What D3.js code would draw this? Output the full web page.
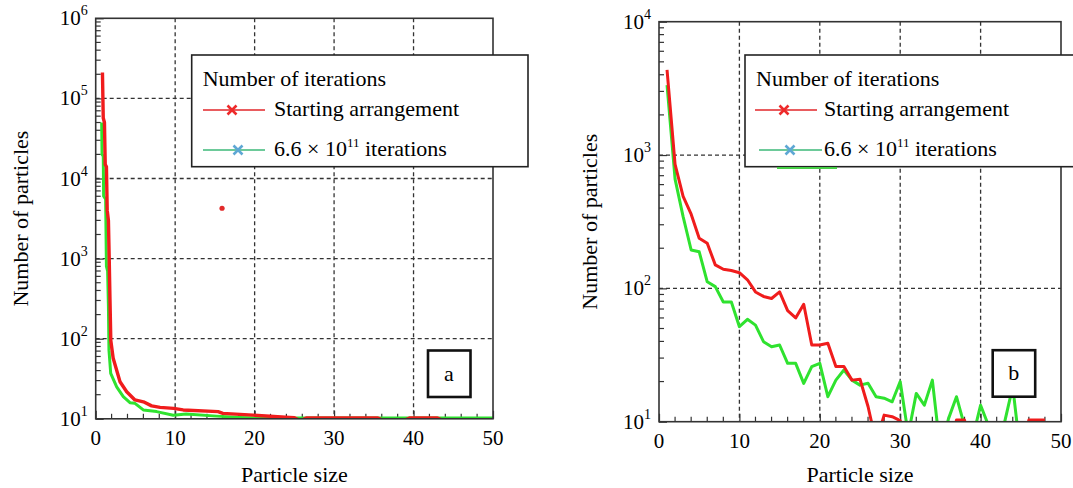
<!DOCTYPE html>
<html><head><meta charset="utf-8">
<script src="https://cdn.jsdelivr.net/npm/d3@7"></script>
</head><body style="margin:0">
<svg id="chart" width="1073" height="488"></svg>
<script>
// ---------- data ----------
const xTicks = [0, 10, 20, 30, 40, 50];
const xMinorTicks = [2, 4, 6, 8, 12, 14, 16, 18, 22, 24, 26, 28, 32, 34, 36, 38, 42, 44, 46, 48];
const leftYTicks = [1e1, 1e2, 1e3, 1e4, 1e5, 1e6];
const rightYTicks = [1e1, 1e2, 1e3, 1e4];
const legendTitle = "Number of iterations";
const seriesNames = ["Starting arrangement", "6.6 × 10", "11", " iterations"];
const panelLetters = ["a", "b"];
const xTitle = "Particle size";
const yTitle = "Number of particles";

// panel a
const leftRedSize  = [0.85, 0.95, 1.1, 1.2, 1.35, 1.45, 1.6, 1.7, 1.8, 1.9, 2.2, 3.06, 3.9, 4.94, 6.0, 7.04, 8.1, 9.8, 11.0, 15.4, 16.0, 19.8, 24.4, 25, 25.5, 26, 26.5, 35.5, 36, 39, 39.5, 43, 43.5, 50];
const leftRedCount = [210000, 57000, 50000, 15000, 14000, 4000, 3000, 1000, 300, 95, 57, 29, 21.8, 17.2, 16.3, 14.5, 13.9, 13.5, 12.9, 12.3, 11.7, 11.1, 10.4, 10.3, 9.7, 9.7, 10.25, 10.25, 9.7, 9.7, 10.25, 10.25, 9.7, 9.7];
const leftGreenSize  = [0.75, 0.8, 0.95, 1.0, 1.25, 1.35, 1.5, 1.6, 1.67, 1.89, 2.64, 3.47, 4.31, 4.94, 5.99, 7.67, 9.76, 11.4, 15.2, 18.2, 20.3, 50];
const leftGreenCount = [50000, 20000, 19000, 6000, 5500, 800, 700, 250, 72, 37, 25, 18.9, 15.9, 15.6, 12.9, 12.3, 11.1, 11.5, 10.8, 10.4, 10.2, 10.2];
const leftStraySize = [15.9];
const leftStrayCount = [4250];

// panel b
const rightSize = [1,2,3,4,5,6,7,8,9,10,11,12,13,14,15,16,17,18,19,20,21,22,23,24,25,26,27,28,29,30,31,32,33,34,35,36,37,38,39,40,41,42,43,44,45,46,47,48];
const rightRedCount = [4350, 850, 490, 360, 238, 218, 150, 139, 136, 131, 116, 94, 87, 84, 94, 68, 60, 76, 37.6, 37.6, 38.8, 25.9, 25.9, 20.5, 20.8, 13, 7, 11.2, 10.9, 10.2, 6, 5, 5, 5, 5, 5, 10.3, 10.3, 5, 5, 5, 5, 5, 5, 5, 10.3, 10.3, 10.3];
const rightGreenCount = [3350, 660, 345, 194, 188, 112, 103, 79, 79, 51.6, 58.6, 53, 39.8, 36.5, 37.6, 27.4, 27.4, 19.4, 25.9, 27.4, 15.4, 20.5, 24.4, 20.5, 18.8, 19.4, 15.4, 15, 14.1, 20, 8, 16.3, 13.3, 20.5, 6, 10.5, 15.4, 9.3, 7.5, 13.3, 9.3, 7, 10, 18.3, 5.5, 5, 5, 5];

// ---------- drawing ----------
const svg = d3.select("#chart");
const RED = "#f01c1c", GREEN = "#2fe22f", GRID = "#333";
const defs = svg.append("defs");
const textQueue = [];   // texts are appended last, straight on the svg root

function addText(opts) { textQueue.push(opts); }

function drawPanel(cfg) {
  const x = d3.scaleLinear().domain([0, 50]).range([cfg.left, cfg.right]);
  const y = d3.scaleLog().domain([cfg.yTicks[0], cfg.yTicks[cfg.yTicks.length - 1]]).range([cfg.bottom, cfg.top]);
  const g = svg.append("g");
  const clipId = "clip-" + cfg.id;
  defs.append("clipPath").attr("id", clipId).append("rect")
    .attr("x", cfg.left).attr("y", cfg.top)
    .attr("width", cfg.right - cfg.left).attr("height", cfg.bottom - cfg.top);

  // grid
  g.append("g").selectAll("line").data(xTicks.slice(1, -1)).join("line")
    .attr("x1", d => x(d)).attr("x2", d => x(d)).attr("y1", cfg.top).attr("y2", cfg.bottom)
    .attr("stroke", GRID).attr("stroke-width", 1.3).attr("stroke-dasharray", "4,3");
  g.append("g").selectAll("line").data(cfg.yTicks.slice(1, -1)).join("line")
    .attr("x1", cfg.left).attr("x2", cfg.right).attr("y1", d => y(d)).attr("y2", d => y(d))
    .attr("stroke", GRID).attr("stroke-width", 1.3).attr("stroke-dasharray", "4,3");

  // minor ticks
  g.append("g").selectAll("line").data(xMinorTicks).join("line")
    .attr("x1", d => x(d)).attr("x2", d => x(d)).attr("y1", cfg.bottom).attr("y2", cfg.bottom - 5)
    .attr("stroke", GRID).attr("stroke-width", 1.2);
  const yMinor = [];
  cfg.yTicks.slice(0, -1).forEach(dec => { for (let m = 2; m <= 9; m++) yMinor.push(dec * m); });
  g.append("g").selectAll("line").data(yMinor).join("line")
    .attr("x1", cfg.left).attr("x2", cfg.left + 5).attr("y1", d => y(d)).attr("y2", d => y(d))
    .attr("stroke", GRID).attr("stroke-width", 1.2);

  // axes (tick marks from d3 axes; labels placed with the same scales)
  const ax = g.append("g").attr("transform", `translate(0,${cfg.bottom})`)
    .call(d3.axisBottom(x).tickValues(xTicks).tickSizeInner(-8).tickSizeOuter(0).tickFormat(() => ""));
  ax.select(".domain").remove();
  ax.selectAll("text").remove();
  ax.selectAll("line").attr("stroke", GRID).attr("stroke-width", 1.2);
  const ay = g.append("g").attr("transform", `translate(${cfg.left},0)`)
    .call(d3.axisLeft(y).tickValues(cfg.yTicks).tickSizeInner(-8).tickSizeOuter(0).tickFormat(() => ""));
  ay.select(".domain").remove();
  ay.selectAll("text").remove();
  ay.selectAll("line").attr("stroke", GRID).attr("stroke-width", 1.2);

  xTicks.forEach(t => addText({x: x(t), y: cfg.bottom + 26, size: 21, anchor: "middle", parts: [[String(t)]]}));
  cfg.yTicks.forEach(t => addText({x: cfg.left - 8, y: y(t) + 7, size: 21, anchor: "end",
    parts: [["10"], [String(Math.round(Math.log10(t))), 14, -10]]}));

  // series
  const line = d3.line().x(d => x(d[0])).y(d => y(d[1]));
  const series = g.append("g").attr("clip-path", `url(#${clipId})`);
  cfg.series.forEach(s => {
    series.append("path").datum(d3.zip(s.sizes, s.counts))
      .attr("d", line).attr("fill", "none").attr("stroke", s.color)
      .attr("stroke-width", s.width).attr("stroke-linejoin", "round");
  });
  if (cfg.stray) {
    series.selectAll("circle").data(d3.zip(cfg.stray.sizes, cfg.stray.counts)).join("circle")
      .attr("cx", d => x(d[0])).attr("cy", d => y(d[1])).attr("r", 2.6).attr("fill", "#e22a2a");
  }

  // border
  g.append("rect").attr("x", cfg.left).attr("y", cfg.top)
    .attr("width", cfg.right - cfg.left).attr("height", cfg.bottom - cfg.top)
    .attr("fill", "none").attr("stroke", GRID).attr("stroke-width", 1.6);

  // titles
  addText({x: (cfg.left + cfg.right) / 2, y: 482, size: 22, anchor: "middle", parts: [[xTitle]]});
  addText({x: 0, y: 0, size: 22, anchor: "middle", parts: [[yTitle]],
    transform: `translate(${cfg.yTitleX},${(cfg.top + cfg.bottom) / 2}) rotate(-90)`});

  // legend
  const L = cfg.legend;
  const lg = g.append("g");
  lg.append("rect").attr("x", L.x).attr("y", L.y).attr("width", L.w).attr("height", L.h)
    .attr("fill", "#fff").attr("stroke", "#222").attr("stroke-width", 1.6);
  const rows = [
    {y: L.y + 55, x1: L.redX1, x2: L.redX2, mk: L.redMk, color: "#e2262a", mcolor: "#ee2a2a"},
    {y: L.y + 95, x1: L.grnX1, x2: L.grnX2, mk: L.grnMk, color: "#3cb878", mcolor: "#5ea7d4"}
  ];
  rows.forEach(r => {
    lg.append("line").attr("x1", r.x1).attr("x2", r.x2).attr("y1", r.y).attr("y2", r.y)
      .attr("stroke", r.color).attr("stroke-width", 1.6);
    const m = 4.5;
    lg.append("path").attr("d", `M${r.mk - m},${r.y - m}L${r.mk + m},${r.y + m}M${r.mk - m},${r.y + m}L${r.mk + m},${r.y - m}`)
      .attr("stroke", r.mcolor).attr("stroke-width", 2.6);
  });
  addText({x: L.x + 11, y: L.y + 31, size: 22, anchor: "start", parts: [[legendTitle]]});
  addText({x: L.textX, y: L.y + 61, size: 22, anchor: "start", parts: [[seriesNames[0]]]});
  addText({x: L.textX, y: L.y + 101, size: 22, anchor: "start",
    parts: [[seriesNames[1]], [seriesNames[2], 13, -9], [seriesNames[3], null, 9]]});
  if (L.artifact) {
    lg.append("line").attr("x1", L.artifact[0]).attr("x2", L.artifact[1])
      .attr("y1", L.y + L.h + 1.2).attr("y2", L.y + L.h + 1.2)
      .attr("stroke", "#47cf47").attr("stroke-width", 2);
  }

  // panel letter box
  const B = cfg.box;
  g.append("rect").attr("x", B.x).attr("y", B.y).attr("width", 42.5).attr("height", 46.5)
    .attr("fill", "#fff").attr("stroke", "#111").attr("stroke-width", 2.6);
  addText({x: B.x + 21, y: B.y + 30, size: 22, anchor: "middle", parts: [[cfg.letter]]});
}

drawPanel({
  id: "a", left: 95.7, right: 493, top: 18.3, bottom: 418.8, yTicks: leftYTicks, yTitleX: 28,
  series: [
    {sizes: leftGreenSize, counts: leftGreenCount, color: GREEN, width: 3},
    {sizes: leftRedSize, counts: leftRedCount, color: RED, width: 3.4}
  ],
  stray: {sizes: leftStraySize, counts: leftStrayCount},
  legend: {x: 191.7, y: 55, w: 336.3, h: 111.7, redX1: 203, redX2: 265, redMk: 232, grnX1: 203, grnX2: 265, grnMk: 238, textX: 274},
  box: {x: 428, y: 350.5}, letter: panelLetters[0]
});

drawPanel({
  id: "b", left: 659, right: 1061, top: 21.7, bottom: 421.7, yTicks: rightYTicks, yTitleX: 597,
  series: [
    {sizes: rightSize, counts: rightGreenCount, color: GREEN, width: 3},
    {sizes: rightSize, counts: rightRedCount, color: RED, width: 3}
  ],
  legend: {x: 745, y: 55, w: 340, h: 111.7, redX1: 755, redX2: 817, redMk: 784, grnX1: 759, grnX2: 822, grnMk: 790, textX: 824, artifact: [777, 837]},
  box: {x: 992.7, y: 350.2}, letter: panelLetters[1]
});

// all texts straight on the svg root, serif face set per element
textQueue.forEach(o => {
  const t = svg.append("text").attr("x", o.x).attr("y", o.y).attr("font-size", o.size)
    .attr("text-anchor", o.anchor).style("font-family", '"Liberation Serif"');
  if (o.transform) t.attr("transform", o.transform);
  if (o.parts.length === 1) {
    t.text(o.parts[0][0]);
  } else {
    o.parts.forEach(p => {
      const s = t.append("tspan").text(p[0]);
      if (p[1]) s.attr("font-size", p[1]);
      if (p[2]) s.attr("dy", p[2]);
    });
  }
});
</script>
</body></html>
